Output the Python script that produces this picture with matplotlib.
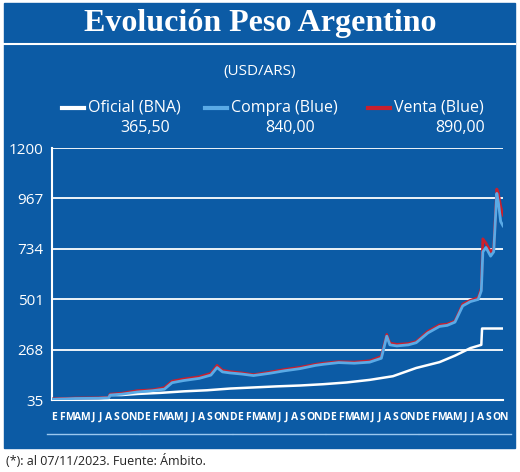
import matplotlib
matplotlib.use("Agg")
import matplotlib.pyplot as plt
from matplotlib.patches import Rectangle

# month index: 0 = Jan 2019
ofi_x = [0, 3, 6, 7.3, 7.5, 9, 11, 14, 17, 20, 23, 26, 29, 32, 35, 38, 41, 44, 47, 50, 52, 54, 55.4, 55.5, 58.2]
ofi_y = [38, 42, 43, 45, 58, 58, 63, 68, 75, 80, 88, 93, 98, 102, 108, 116, 128, 145, 183, 210, 240, 275, 290, 365.5, 365.5]

blue_x = [0, 3, 6, 7.3, 7.5, 9, 11, 13, 14.5, 15.5, 17, 19, 20.5, 21.3, 22, 23, 24.5, 26, 28, 30, 32, 34, 35, 37, 39, 41, 42.5, 43.2, 43.6,
          44.5, 46, 47, 48.5, 50, 51, 52, 53, 54, 55, 55.4, 55.6, 56, 56.6, 57, 57.4, 57.6, 57.9, 58.2]
compra_y = [38, 42, 43, 45, 58, 62, 72, 78, 85, 115, 125, 135, 150, 185, 165, 160, 155, 148, 158, 170, 180, 195, 200, 208, 205, 210, 228, 330, 290,
            285, 290, 300, 345, 375, 380, 395, 470, 490, 500, 540, 720, 740, 700, 720, 990, 950, 860, 840]
venta_y = [40, 44, 45, 47, 62, 66, 78, 82, 92, 122, 132, 142, 158, 195, 172, 166, 160, 152, 163, 176, 186, 200, 205, 212, 210, 216, 236, 338, 298,
           292, 296, 305, 352, 382, 386, 400, 478, 496, 508, 550, 780, 760, 720, 735, 1010, 990, 930, 890]

months = list("EFMAMJJASOND")
years = ["2019", "2020", "2021", "2022", "2023"]
yticks = [35, 268, 501, 734, 967, 1200]

BG = "#0c5ba5"
W, H = 520, 472
fig = plt.figure(figsize=(W/100, H/100), dpi=100)
fig.patch.set_facecolor("white")
def px(x, y):
    return x / W, 1 - y / H
fig.patches.append(Rectangle(px(4, 448), 511/W, 445/H, transform=fig.transFigure, color=BG, zorder=-5))
fig.lines.append(plt.Line2D([4/W, 515/W], [1-44/H]*2, color="white", lw=1.5, transform=fig.transFigure))
fig.text(*px(260, 24), "Evolución Peso Argentino", color="white", fontsize=23, fontweight="bold",
         family="Liberation Serif", ha="center", va="center")
fig.text(*px(260, 72), "(USD/ARS)", color="white", fontsize=11, ha="center", va="center", family="Open Sans")

leg = [("Oficial (BNA)", "white", "365,50", 62, 145),
       ("Compra (Blue)", "#5aaae6", "840,00", 205, 290),
       ("Venta (Blue)", "#c8202e", "890,00", 368, 460)]
for lab, col, val, x0, xv in leg:
    fig.lines.append(plt.Line2D([x0/W, (x0+22)/W], [1-108/H]*2, color=col, lw=3, transform=fig.transFigure))
    fig.text(*px(x0+26, 108), lab, color="white", fontsize=11.5, va="center", family="Open Sans")
    fig.text(*px(xv, 128), val, color="white", fontsize=11.5, ha="center", va="center", family="Open Sans")

ax = fig.add_axes([52/W, 1-400/H, (503-52)/W, (400-148)/H])
ax.set_zorder(2)
ax.set_facecolor(BG)
for y in yticks[1:]:
    ax.axhline(y, color="white", lw=1.3, zorder=1)
ax.plot(ofi_x, ofi_y, color="white", lw=1.8, zorder=3)
ax.plot(blue_x, venta_y, color="#c8202e", lw=2, zorder=3)
ax.plot(blue_x, compra_y, color="#5aaae6", lw=2, zorder=4)
ax.set_xlim(0, 58.2)
ax.set_ylim(35, 1200)
ax.set_yticks(yticks)
ax.set_yticklabels([str(v) for v in yticks], color="white", fontsize=11, family="Open Sans")
ax.set_xticks([])
ax.tick_params(axis="y", length=0, pad=6)
for s in ["top", "right"]:
    ax.spines[s].set_visible(False)
for s in ["left", "bottom"]:
    ax.spines[s].set_color("white")
    ax.spines[s].set_linewidth(1.5)

trans = ax.get_xaxis_transform()
for i in range(59):
    ax.text(i + 0.3, -0.07, months[i % 12], transform=trans, color="white", fontsize=7.5,
            ha="center", va="center", family="Open Sans", fontweight="bold", clip_on=False)
for k, yr in enumerate(years):
    a, b = 12*k - 0.6, min(12*k + 11.2, 59.5)
    ax.plot([a, b], [-0.135, -0.135], transform=trans, color="#9cc8ef", lw=1, clip_on=False)
    ax.text((a + b) / 2, -0.225, yr, transform=trans, color="white", fontsize=11,
            ha="center", va="center", family="Open Sans", clip_on=False)

fig.text(*px(6, 461), "(*): al 07/11/2023. Fuente: Ámbito.", color="#222222", fontsize=9,
         va="center", family="Open Sans")
fig.savefig("out.png", dpi=100, facecolor="white")
